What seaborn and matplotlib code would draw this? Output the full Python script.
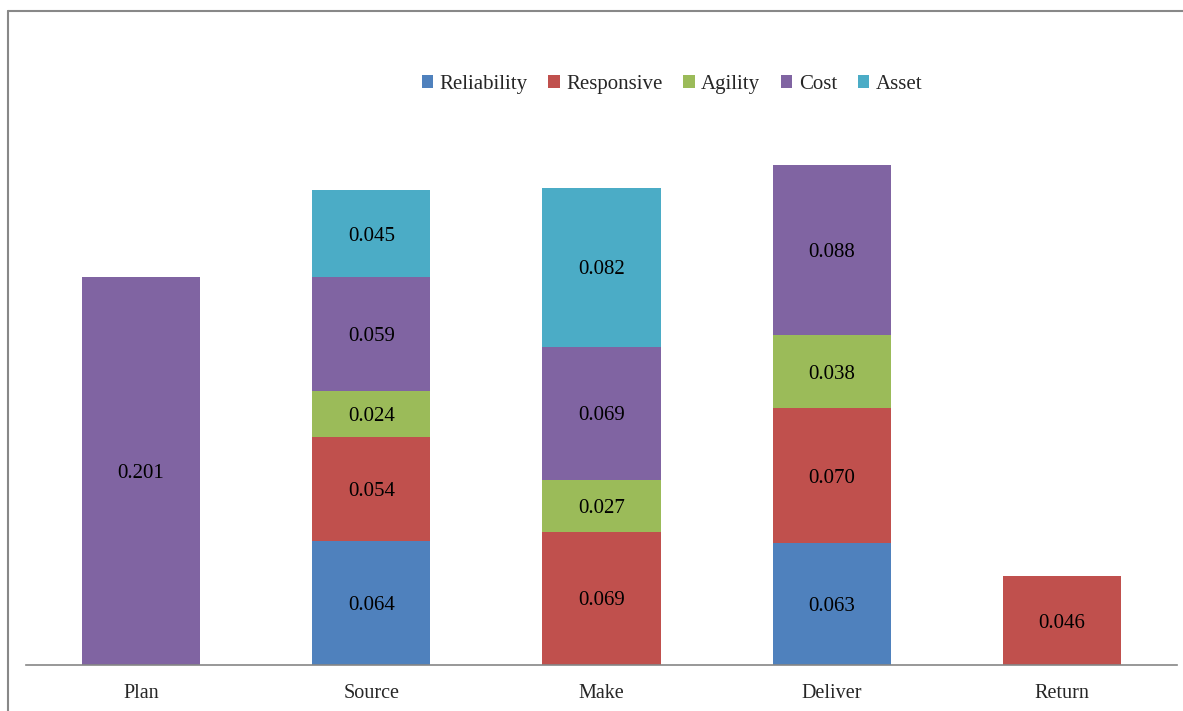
import numpy as np
import pandas as pd
import matplotlib
matplotlib.use("Agg")
import matplotlib.pyplot as plt
import seaborn as sns
from matplotlib.lines import Line2D
from matplotlib.patches import Patch

# Data
stages = ["Plan", "Source", "Make", "Deliver", "Return"]
series = ["Reliability", "Responsive", "Agility", "Cost", "Asset"]
reliability = [0.0, 0.064, 0.0, 0.063, 0.0]
responsive = [0.0, 0.054, 0.069, 0.070, 0.046]
agility = [0.0, 0.024, 0.027, 0.038, 0.0]
cost = [0.201, 0.059, 0.069, 0.088, 0.0]
asset = [0.0, 0.045, 0.082, 0.0, 0.0]
colors = ["#4F81BD", "#C0504D", "#9BBB59", "#8064A2", "#4BACC6"]

df = pd.DataFrame({"Reliability": reliability, "Responsive": responsive,
                   "Agility": agility, "Cost": cost, "Asset": asset}, index=stages)
cum = df.cumsum(axis=1)

sns.set_style("white")
plt.rcParams["font.family"] = ["Liberation Serif", "DejaVu Serif"]

fig = plt.figure(figsize=(11.83, 7.11), dpi=100)
ax = fig.add_axes([26 / 1183, 1 - 665 / 711, 1151 / 1183, 579 / 711])

# stack by drawing cumulative totals from the top layer down
for name, col in zip(series[::-1], colors[::-1]):
    sns.barplot(x=stages, y=cum[name].values, color=col, width=0.513,
                saturation=1, ax=ax, linewidth=0, zorder=2)

# value labels in segment centers
for i, st in enumerate(stages):
    prev = 0.0
    for name in series:
        v = df.loc[st, name]
        if v > 0:
            ax.text(i, prev + v / 2, f"{v:.3f}", ha="center", va="center_baseline",
                    fontsize=15, color="black", zorder=3)
        prev += v

ax.set_xlim(-0.5, 4.5)
ax.set_ylim(0, 0.30)
ax.set_yticks([])
ax.set_ylabel("")
for s in ["top", "right", "left"]:
    ax.spines[s].set_visible(False)
ax.spines["bottom"].set_color("#868686")
ax.spines["bottom"].set_linewidth(1.2)
ax.tick_params(axis="x", length=0, pad=14, labelsize=14.5)

handles = [Patch(facecolor=c, edgecolor="none") for c in colors]
fig.legend(handles, series, loc="center", bbox_to_anchor=(0.568, 0.881), ncol=5,
           frameon=False, fontsize=15, handlelength=0.55, handleheight=0.55,
           handletextpad=0.3, columnspacing=1.0)

# outer frame (top and left lines)
fig.add_artist(Line2D([8 / 1183, 1.0], [1 - 11 / 711, 1 - 11 / 711],
                      transform=fig.transFigure, color="#888888", lw=1.5))
fig.add_artist(Line2D([8 / 1183, 8 / 1183], [0.0, 1 - 11 / 711],
                      transform=fig.transFigure, color="#888888", lw=1.5))

fig.savefig("out.png", dpi=100)
